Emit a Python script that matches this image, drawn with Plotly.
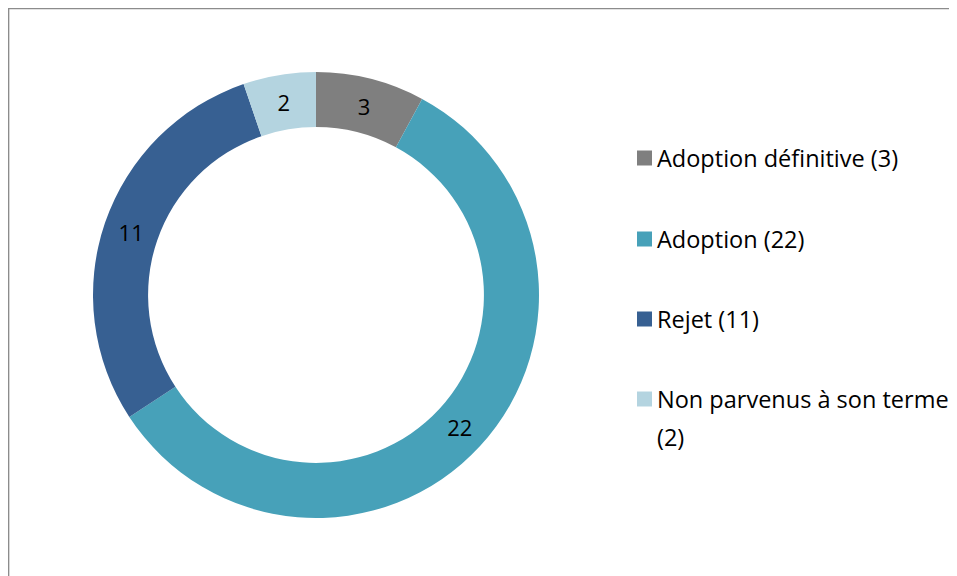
import plotly.graph_objects as go

categories = ["Adoption définitive", "Adoption", "Rejet", "Non parvenus à son terme"]
values = [3, 22, 11, 2]
colors = ["#7f7f7f", "#47a1b9", "#376092", "#b4d4e0"]
legend_lines = [["Adoption définitive (3)"], ["Adoption (22)"], ["Rejet (11)"],
                ["Non parvenus à son terme", "(2)"]]

# page body has an 8px margin: draw in a 949x568 figure, offset coordinates by 8
OFF = 8
W, H = 957 - OFF, 576 - OFF
FONT = "Open Sans"


def px(x):
    return (x - OFF) / W


def py(y):
    return (H - (y - OFF)) / H


fig = go.Figure()
fig.add_trace(go.Pie(
    labels=categories,
    values=values,
    marker=dict(colors=colors, line=dict(width=0)),
    hole=0.753,
    sort=False,
    direction="clockwise",
    rotation=0,
    textinfo="value",
    textposition="inside",
    insidetextorientation="horizontal",
    textfont=dict(family=FONT, size=22, color="#000000"),
    showlegend=False,
    domain=dict(x=[px(93), px(539)], y=[py(518), py(72)]),
))

legend_y = [158, 239, 319, 399]
line_gap = 38
shapes = [dict(type="rect", xref="paper", yref="paper",
               x0=0.6 / W, x1=1.05, y0=-0.05, y1=1 - 0.6 / H,
               line=dict(color="#8c8c8c", width=1.5), fillcolor="rgba(0,0,0,0)")]
annotations = []
for i, (lines, col) in enumerate(zip(legend_lines, colors)):
    yc = legend_y[i]
    shapes.append(dict(type="rect", xref="paper", yref="paper",
                       x0=px(637), x1=px(652), y0=py(yc + 7.5), y1=py(yc - 7.5),
                       line=dict(width=0), fillcolor=col))
    for j, txt in enumerate(lines):
        annotations.append(dict(xref="paper", yref="paper", x=px(655), y=py(yc + j * line_gap),
                                text=txt, showarrow=False, xanchor="left", yanchor="middle",
                                align="left",
                                font=dict(family=FONT, size=23.5, color="#000000")))

fig.update_layout(
    width=W, height=H,
    margin=dict(l=0, r=0, t=0, b=0),
    paper_bgcolor="white",
    plot_bgcolor="white",
    shapes=shapes,
    annotations=annotations,
)

fig.write_html("out.html")
